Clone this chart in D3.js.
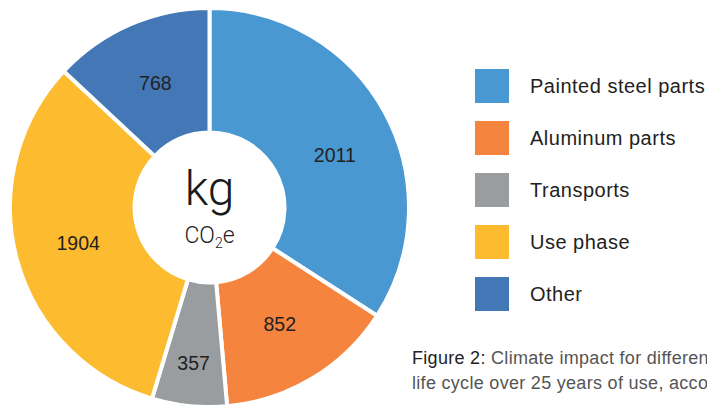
<!DOCTYPE html>
<html><head><meta charset="utf-8">
<script src="https://cdn.jsdelivr.net/npm/d3@7"></script>
<style>
html,body{margin:0;padding:0;background:#fff;overflow:hidden;}
svg{display:block;font-family:"Liberation Sans",Arial,sans-serif;}
</style></head>
<body>
<svg id="chart" width="707" height="405"></svg>
<script>
const categories = ["Painted steel parts", "Aluminum parts", "Transports", "Use phase", "Other"];
const values = [2011, 852, 357, 1904, 768];
const colors = ["#4A98D2", "#F4843E", "#9A9D9F", "#FDBC2F", "#4477B6"];
const centerTitle = "kg";
const captionLines = [
  {bold: "Figure 2:", rest: " Climate impact for different parts of the"},
  {bold: "", rest: "life cycle over 25 years of use, according to"}
];

const svg = d3.select("#chart");
const cx = 209.5, cy = 207.5;
const outerR = 199.5, innerR = 75;

const pie = d3.pie().sort(null).value(d => d)(values);
const arc = d3.arc().innerRadius(innerR).outerRadius(outerR);

const g = svg.append("g").attr("transform", `translate(${cx},${cy})`);
g.selectAll("path.slice").data(pie).join("path")
  .attr("class", "slice")
  .attr("d", arc)
  .attr("fill", (d, i) => colors[i])
  .attr("stroke", "#fff")
  .attr("stroke-width", 4)
  .attr("stroke-linejoin", "miter");

// labels
g.selectAll("text.val").data(pie).join("text")
  .attr("class", "val")
  .attr("transform", d => {
    const narrow = (d.endAngle - d.startAngle) < 0.5;
    const r = narrow ? 156 : 136;
    const a = (d.startAngle + d.endAngle) / 2 + (d.index === 0 ? 0.1 : 0);
    return `translate(${r * Math.sin(a)},${-r * Math.cos(a)})`;
  })
  .attr("text-anchor", "middle")
  .attr("dy", "0.36em")
  .attr("font-size", 19.5)
  .attr("fill", "#222")
  .text(d => d.data);

// center text
g.append("text")
  .attr("x", 0).attr("y", -3)
  .attr("text-anchor", "middle")
  .attr("font-family", "Roboto, 'Liberation Sans', sans-serif")
  .attr("font-size", 48)
  .attr("font-weight", 300)
  .attr("fill", "#1a1a1a")
  .text(centerTitle);
const co = g.append("text")
  .attr("x", 0).attr("y", 35)
  .attr("text-anchor", "middle")
  .attr("font-family", "Roboto, 'Liberation Sans', sans-serif")
  .attr("font-weight", 300)
  .attr("font-size", 23)
  .attr("fill", "#222");
co.append("tspan").text("CO");
co.append("tspan").attr("font-size", 14).attr("dy", 5).text("2");
co.append("tspan").attr("dy", -5).text("e");

// legend
const legend = svg.append("g");
const items = legend.selectAll("g").data(categories).join("g")
  .attr("transform", (d, i) => `translate(475,${69 + i * 52})`);
items.append("rect").attr("width", 34).attr("height", 34).attr("fill", (d, i) => colors[i]);
items.append("text")
  .attr("x", 55).attr("y", 17).attr("dy", "0.36em")
  .attr("font-size", 20).attr("letter-spacing", 0.5).attr("fill", "#222")
  .text(d => d);

// caption
const cap = svg.append("g");
captionLines.forEach((l, i) => {
  const t = cap.append("text").attr("x", 412).attr("y", 364 + i * 25)
    .attr("font-size", 18).attr("letter-spacing", 0.3);
  if (l.bold) t.append("tspan").attr("fill", "#222").attr("font-weight", 500).text(l.bold);
  t.append("tspan").attr("fill", "#555").text(l.rest);
});
</script>
</body></html>
